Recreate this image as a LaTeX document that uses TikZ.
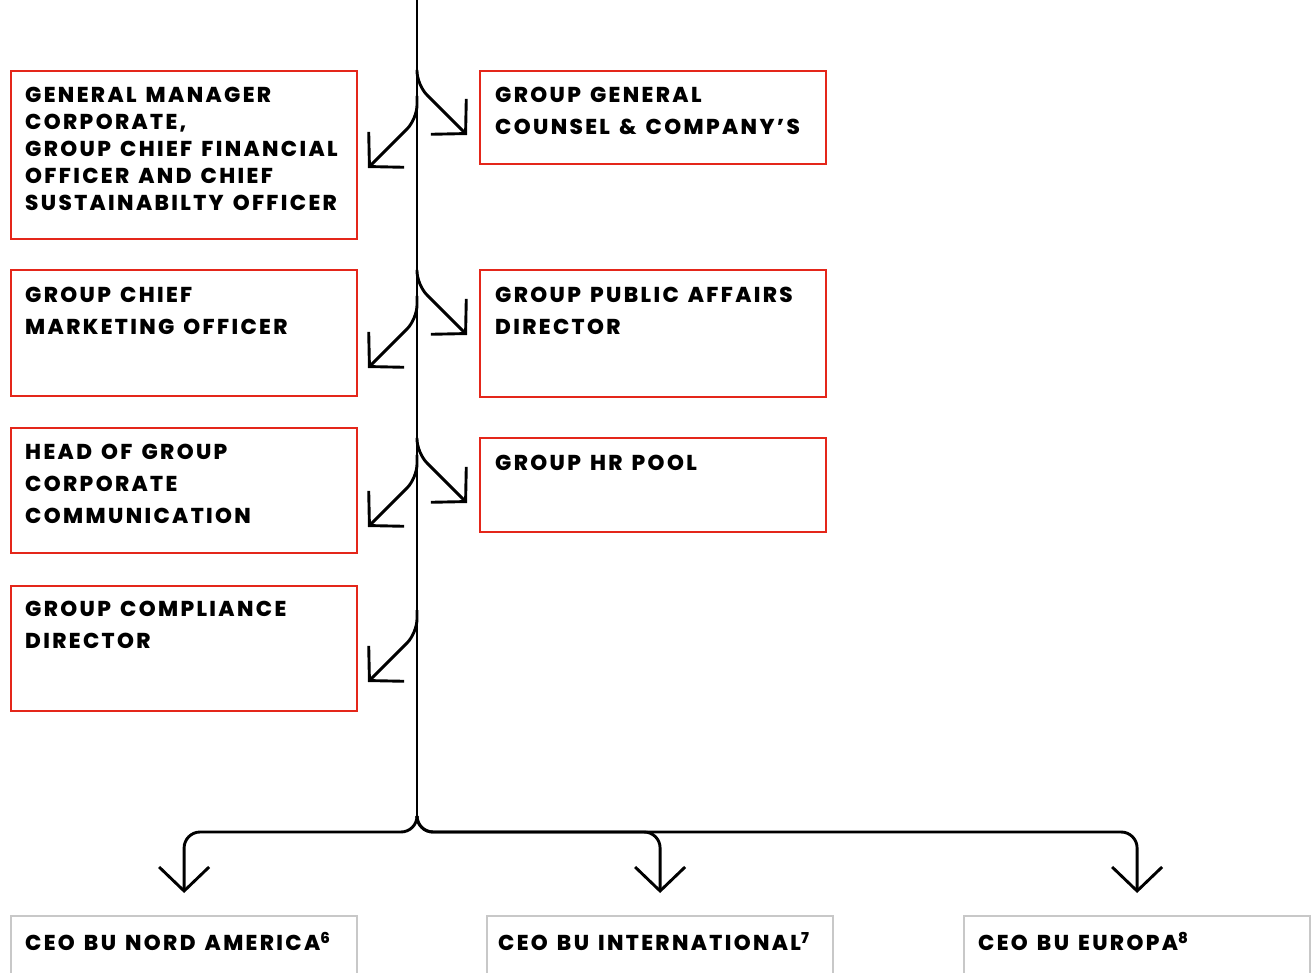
\documentclass[tikz,border=0pt]{standalone}
\usepackage{fontspec}
\setmainfont{Poppins}
\newfontfamily\orgfont{Poppins}[BoldFont={Poppins ExtraBold}, LetterSpace=11, WordSpace=1.4]
\usetikzlibrary{arrows.meta}
\definecolor{framered}{RGB}{228,38,26}
\definecolor{framegray}{RGB}{200,200,200}
\begin{document}
\begin{tikzpicture}[x=1pt,y=-1pt,
  redbox/.style={draw=framered, line width=2.2pt, anchor=north west,
    minimum width=346pt, inner sep=0pt},
  graybox/.style={draw=framegray, line width=2.2pt, anchor=north west,
    minimum width=346pt, minimum height=80pt, inner sep=0pt},
  boxtext/.style={anchor=north west, inner sep=0pt, align=left,
    font=\orgfont\bfseries\fontsize{21.5}{32}\selectfont},
  tighttext/.style={boxtext, font=\orgfont\bfseries\fontsize{21.5}{27}\selectfont},
  link/.style={line width=2.9pt, rounded corners=14pt,
    -{Straight Barb[length=24pt, width=50pt]}},
]
\useasboundingbox (0,0) rectangle (1315,973);
\clip (0,0) rectangle (1315,973);

% staff boxes, left column
\node[redbox, minimum height=168pt] (gm)   at (10,70)  {};
\node[redbox, minimum height=126pt] (gcmo) at (10,269) {};
\node[redbox, minimum height=125pt] (hgcc) at (10,427) {};
\node[redbox, minimum height=125pt] (gcd)  at (10,585) {};
% staff boxes, right column
\node[redbox, minimum height=93pt]  (ggc) at (479,70)  {};
\node[redbox, minimum height=127pt] (gpa) at (479,269) {};
\node[redbox, minimum height=94pt]  (ghr) at (479,437) {};
% business units
\node[graybox] (bna)  at (10,915)  {};
\node[graybox] (bint) at (486,915) {};
\node[graybox] (beu)  at (963,915) {};

% box texts
\node[tighttext] (gm-t) at ([shift={(15,17)}]gm.north west)
  {GENERAL MANAGER\\CORPORATE,\\GROUP CHIEF FINANCIAL\\OFFICER AND CHIEF\\SUSTAINABILTY OFFICER};
\node[boxtext] (gcmo-t) at ([shift={(15,18)}]gcmo.north west) {GROUP CHIEF\\MARKETING OFFICER};
\node[boxtext] (hgcc-t) at ([shift={(15,17)}]hgcc.north west) {HEAD OF GROUP\\CORPORATE\\COMMUNICATION};
\node[boxtext] (gcd-t)  at ([shift={(15,16)}]gcd.north west)  {GROUP COMPLIANCE\\DIRECTOR};
\node[boxtext] (ggc-t)  at ([shift={(16,17)}]ggc.north west)  {GROUP GENERAL\\COUNSEL \& COMPANY’S};
\node[boxtext] (gpa-t)  at ([shift={(16,18)}]gpa.north west)  {GROUP PUBLIC AFFAIRS\\DIRECTOR};
\node[boxtext] (ghr-t)  at ([shift={(16,18)}]ghr.north west)  {GROUP HR POOL};
\node[boxtext] (bna-t)  at ([shift={(15,17)}]bna.north west)  {CEO BU NORD AMERICA\textsuperscript{6}};
\node[boxtext] (bint-t) at ([shift={(12,17)}]bint.north west) {CEO BU INTERNATIONAL\textsuperscript{7}};
\node[boxtext] (beu-t)  at ([shift={(15,17)}]beu.north west)  {CEO BU EUROPA\textsuperscript{8}};

% trunk
\coordinate (top)  at (417,0);
\coordinate (fork) at (417,816);
\coordinate (split) at (417,832);
\draw[line width=2.9pt] (top) -- (fork);

% branches down to the business units
\draw[link, rounded corners=16pt, shorten >=22pt] (fork) -- (split) -| (bna.north);
\draw[link, rounded corners=16pt, shorten >=22pt] (fork) -- (split) -| (bint.north);
\draw[link, rounded corners=16pt, shorten >=22pt] (fork) -- (split) -| (beu.north);

% side arrows towards the staff boxes
\coordinate (r1s) at (417,70);  \coordinate (r1c) at (417,85);  \coordinate (r1t) at (467,135);
\coordinate (l1s) at (417,96);  \coordinate (l1c) at (417,119); \coordinate (l1t) at (368,168);
\coordinate (r2s) at (417,270); \coordinate (r2c) at (417,285); \coordinate (r2t) at (467,335);
\coordinate (l2s) at (417,296); \coordinate (l2c) at (417,319); \coordinate (l2t) at (368,368);
\coordinate (r3s) at (417,438); \coordinate (r3c) at (417,453); \coordinate (r3t) at (467,503);
\coordinate (l3s) at (417,455); \coordinate (l3c) at (417,478); \coordinate (l3t) at (368,527);
\coordinate (l4s) at (417,610); \coordinate (l4c) at (417,633); \coordinate (l4t) at (368,682);

\draw[link] (r1s) -- (r1c) -- (r1t);
\draw[link] (l1s) -- (l1c) -- (l1t);
\draw[link] (r2s) -- (r2c) -- (r2t);
\draw[link] (l2s) -- (l2c) -- (l2t);
\draw[link] (r3s) -- (r3c) -- (r3t);
\draw[link] (l3s) -- (l3c) -- (l3t);
\draw[link] (l4s) -- (l4c) -- (l4t);
\end{tikzpicture}
\end{document}
